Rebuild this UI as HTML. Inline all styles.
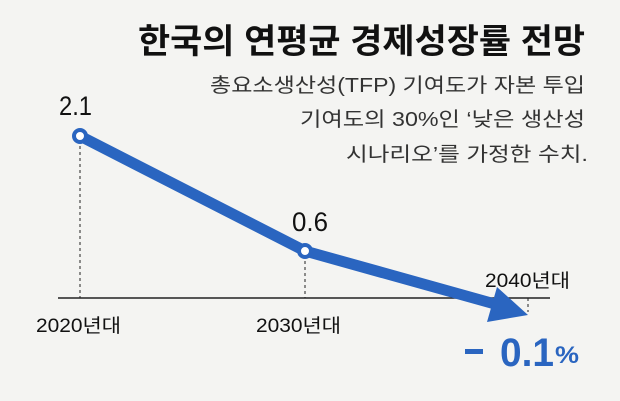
<!DOCTYPE html>
<html><head><meta charset="utf-8"><style>
html,body{margin:0;padding:0;background:#f4f4f2;}
svg{display:block;}
text{font-family:"Liberation Sans","Noto Sans CJK KR",sans-serif;}
</style></head><body>
<svg width="620" height="401" viewBox="0 0 620 401" xmlns="http://www.w3.org/2000/svg">
<rect width="620" height="401" fill="#f4f4f2"/>
<text x="138" y="53" font-size="34" font-weight="bold" fill="#111" textLength="447" lengthAdjust="spacingAndGlyphs">한국의 연평균 경제성장률 전망</text>
<g font-size="20" fill="#333" text-anchor="end">
<text x="585" y="92" textLength="375" lengthAdjust="spacingAndGlyphs">총요소생산성(TFP) 기여도가 자본 투입</text>
<text x="585" y="126" textLength="285" lengthAdjust="spacingAndGlyphs">기여도의 30%인 ‘낮은 생산성</text>
<text x="588" y="161" textLength="242" lengthAdjust="spacingAndGlyphs">시나리오’를 가정한 수치.</text>
</g>
<g stroke="#222" stroke-width="1" stroke-dasharray="3,3">
<line x1="80" y1="140" x2="80" y2="298"/>
<line x1="305" y1="255" x2="305" y2="298"/>
<line x1="528" y1="298" x2="528" y2="312"/>
</g>
<line x1="58" y1="298" x2="550" y2="298" stroke="#222" stroke-width="1.5"/>
<polyline points="80,136 305,251 502,306" fill="none" stroke="#2a65c0" stroke-width="11" stroke-linejoin="round"/>
<polygon points="528,315 497,287 487,322" fill="#2a65c0"/>
<circle cx="80" cy="136" r="6" fill="#fff" stroke="#2a65c0" stroke-width="4"/>
<circle cx="305" cy="251" r="6" fill="#fff" stroke="#2a65c0" stroke-width="4"/>
<g font-size="27" fill="#111">
<text x="59" y="115" textLength="33" lengthAdjust="spacingAndGlyphs">2.1</text>
<text x="292" y="231" textLength="36" lengthAdjust="spacingAndGlyphs">0.6</text>
</g>
<g font-size="19" fill="#111">
<text x="36" y="332" textLength="85" lengthAdjust="spacingAndGlyphs">2020년대</text>
<text x="256" y="332" textLength="85" lengthAdjust="spacingAndGlyphs">2030년대</text>
<text x="485" y="287" textLength="85" lengthAdjust="spacingAndGlyphs">2040년대</text>
</g>
<g fill="#2a65c0" font-weight="bold">
<rect x="465" y="349" width="18" height="5"/>
<text x="500" y="366" font-size="40" textLength="54" lengthAdjust="spacingAndGlyphs">0.1</text>
<text x="555" y="363" font-size="24" textLength="24" lengthAdjust="spacingAndGlyphs">%</text>
</g>
</svg>
</body></html>
